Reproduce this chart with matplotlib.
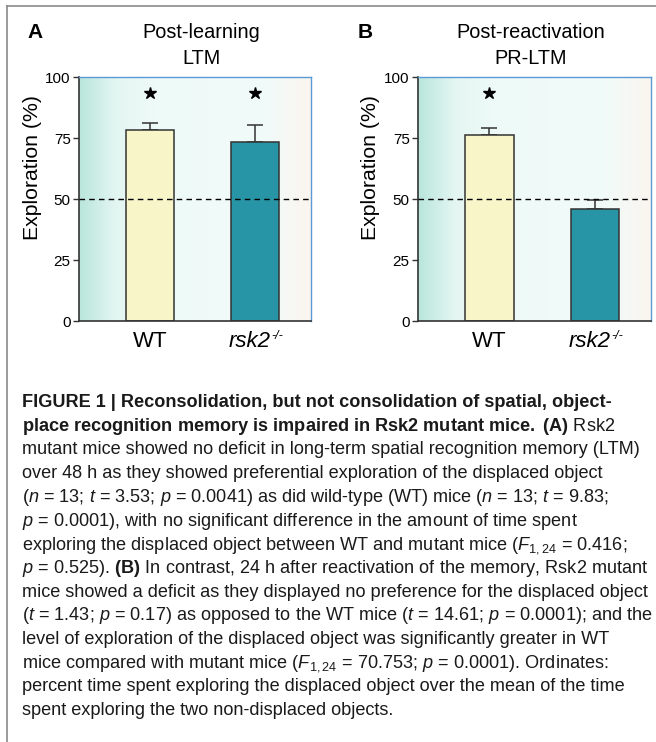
import matplotlib
matplotlib.use("Agg")
import matplotlib.pyplot as plt
import numpy as np
from matplotlib import font_manager
from matplotlib.colors import LinearSegmentedColormap
from matplotlib.lines import Line2D

# data
groups = ['WT', 'rsk2']
ltm_mean = [78.4, 73.5]
ltm_sem = [2.7, 6.8]
ltm_sig = [True, True]
prltm_mean = [76.1, 45.9]
prltm_sem = [2.8, 3.6]
prltm_sig = [True, False]
chance = 50
yticks = [0, 25, 50, 75, 100]

panels = [('A', ['Post-learning', 'LTM'], ltm_mean, ltm_sem, ltm_sig),
          ('B', ['Post-reactivation', 'PR-LTM'], prltm_mean, prltm_sem, prltm_sig)]

caption = [
    "FIGURE 1 | Reconsolidation, but not consolidation of spatial, object-",
    r"$\mathbf{place\ recognition\ memory\ is\ impaired\ in\ Rsk2\ mutant\ mice.\ (A)}$ Rsk2",
    "mutant mice showed no deficit in long-term spatial recognition memory (LTM)",
    "over 48 h as they showed preferential exploration of the displaced object",
    r"($\mathit{n}$ = 13; $\mathit{t}$ = 3.53; $\mathit{p}$ = 0.0041) as did wild-type (WT) mice ($\mathit{n}$ = 13; $\mathit{t}$ = 9.83;",
    r"$\mathit{p}$ = 0.0001), with no significant difference in the amount of time spent",
    r"exploring the displaced object between WT and mutant mice ($\mathit{F}_{1,24}$ = 0.416;",
    r"$\mathit{p}$ = 0.525). $\mathbf{(B)}$ In contrast, 24 h after reactivation of the memory, Rsk2 mutant",
    "mice showed a deficit as they displayed no preference for the displaced object",
    r"($\mathit{t}$ = 1.43; $\mathit{p}$ = 0.17) as opposed to the WT mice ($\mathit{t}$ = 14.61; $\mathit{p}$ = 0.0001); and the",
    "level of exploration of the displaced object was significantly greater in WT",
    r"mice compared with mutant mice ($\mathit{F}_{1,24}$ = 70.753; $\mathit{p}$ = 0.0001). Ordinates:",
    "percent time spent exploring the displaced object over the mean of the time",
    "spent exploring the two non-displaced objects.",
]

names = set(f.name for f in font_manager.fontManager.ttflist)
cap_font = 'Liberation Sans Narrow' if 'Liberation Sans Narrow' in names else 'Liberation Sans'
cap_size = 15.8 if cap_font == 'Liberation Sans Narrow' else 13.1

plt.rcParams['font.family'] = ['Liberation Sans', 'DejaVu Sans']
plt.rcParams['mathtext.fontset'] = 'custom'
plt.rcParams['mathtext.rm'] = cap_font
plt.rcParams['mathtext.it'] = cap_font + ':italic'
plt.rcParams['mathtext.bf'] = cap_font + ':bold'

W, H = 656, 742
fig = plt.figure(figsize=(W / 100, H / 100), dpi=100)

# background gradient of the plot areas
bg = LinearSegmentedColormap.from_list('bg', [(0.0, '#b9e6dc'), (0.16, '#e4f6f2'), (0.32, '#eefaf8'),
                                              (0.8, '#f1fbfa'), (1.0, '#fbf5ef')])
grad = np.linspace(0, 1, 256)[None, :]

x = np.arange(len(groups))
ax_boxes = [(79, 311), (418, 651)]
title_x = [201, 531]
letter_x = [27, 358]
top, bottom = 77, 321

for (letter, title, mean, sem, sig), (l, r), tx, lx in zip(panels, ax_boxes, title_x, letter_x):
    ax = fig.add_axes([l / W, 1 - bottom / H, (r - l) / W, (bottom - top) / H])
    ax.imshow(grad, cmap=bg, extent=[0, 1, 0, 1], transform=ax.transAxes, aspect='auto', zorder=0)
    ax.bar(x, mean, width=0.46, color=['#f8f5c9', '#2795a6'], edgecolor='#333333', linewidth=1.1, zorder=2)
    ax.errorbar(x, mean, yerr=[np.zeros(len(sem)), sem], fmt='none', ecolor='#333333',
                elinewidth=1.1, capsize=6, capthick=1.1, zorder=1)
    ax.axhline(chance, color='black', linestyle=(0, (4, 3)), linewidth=1, zorder=3)
    sx = [xi for xi, s in zip(x, sig) if s]
    ax.plot(sx, [93.4] * len(sx), linestyle='none', marker='*', markersize=9, color='black', zorder=4)
    ax.set_xlim(-0.676, 1.533)
    ax.set_ylim(0, 100)
    ax.set_yticks(yticks)
    ax.set_yticklabels([str(t) for t in yticks], fontsize=11)
    ax.tick_params(axis='y', length=4, width=1, color='#333333', pad=2)
    ax.set_xticks([])
    for s in ['left', 'bottom']:
        ax.spines[s].set_color('#333333')
        ax.spines[s].set_linewidth(1.2)
    for s in ['top', 'right']:
        ax.spines[s].set_color('#5b9bd5')
        ax.spines[s].set_linewidth(1)
    ax.text(-47 / (r - l), 0.63, 'Exploration (%)', transform=ax.transAxes, rotation=90,
            ha='center', va='center', fontsize=15.3)
    # group labels
    ax.annotate(groups[0], xy=(x[0], 0), xycoords=ax.get_xaxis_transform(), xytext=(0, -14.5),
                textcoords='offset points', ha='center', va='center', fontsize=16)
    t = ax.annotate(groups[1], xy=(x[1], 0), xycoords=ax.get_xaxis_transform(), xytext=(-3.6, -14.5),
                    textcoords='offset points', ha='center', va='center', fontsize=16, style='italic')
    ax.annotate('-/-', xy=(1, 1), xycoords=t, xytext=(0.3, 0.5), textcoords='offset points',
                ha='left', va='top', fontsize=9, style='italic')
    fig.text(tx / W, 1 - 32 / H, title[0], ha='center', va='center', fontsize=14.3)
    fig.text(tx / W, 1 - 58 / H, title[1], ha='center', va='center', fontsize=14.3)
    fig.text(lx / W, 1 - 33 / H, letter, ha='left', va='center', fontsize=15, fontweight='bold')

# caption
for i, line in enumerate(caption):
    fig.text(22 / W, 1 - (407 + i * 23.7) / H, line, ha='left', va='baseline', fontsize=cap_size,
             family=cap_font, color='#1a1a1a', fontweight='bold' if i == 0 else 'normal')

# frame around the figure
fig.add_artist(Line2D([7 / W, 1], [1 - 6 / H, 1 - 6 / H], color='#8a8a8a', linewidth=1.2))
fig.add_artist(Line2D([7 / W, 7 / W], [0, 1 - 6 / H], color='#8a8a8a', linewidth=1.2))

fig.savefig('out.png', dpi=100)
